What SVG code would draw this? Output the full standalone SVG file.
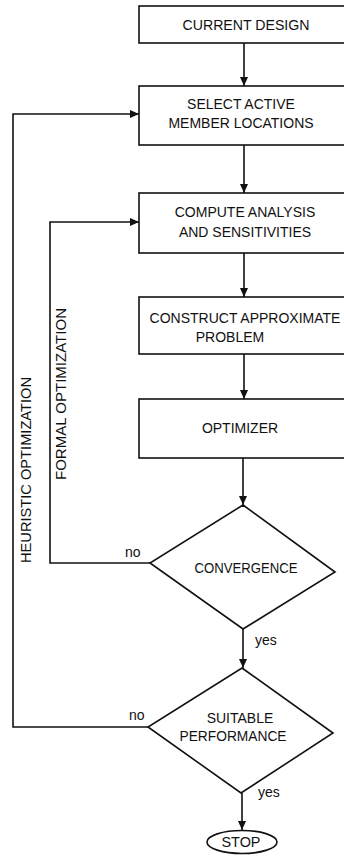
<svg xmlns="http://www.w3.org/2000/svg" width="344" height="861" viewBox="0 0 344 861">
<defs>
<marker id="ah" markerWidth="10" markerHeight="8" refX="9" refY="4" orient="auto" markerUnits="userSpaceOnUse">
<path d="M0,0 L9,4 L0,8 Z" fill="#111"/>
</marker>
<style>
.box{fill:#fff;stroke:#111;stroke-width:1.6}
.ln{fill:none;stroke:#111;stroke-width:1.6}
.t{font-family:"Liberation Sans",Arial,sans-serif;font-size:14px;fill:#111;text-anchor:middle}
.s{font-family:"Liberation Sans",Arial,sans-serif;font-size:14px;fill:#111}
</style>
</defs>
<rect width="344" height="861" fill="#fff"/>
<g id="connectors">
<line class="ln" x1="244" y1="43" x2="244" y2="86" marker-end="url(#ah)"/>
<line class="ln" x1="244" y1="145" x2="244" y2="193" marker-end="url(#ah)"/>
<line class="ln" x1="244" y1="253" x2="244" y2="297" marker-end="url(#ah)"/>
<line class="ln" x1="244" y1="354" x2="244" y2="399" marker-end="url(#ah)"/>
<line class="ln" x1="243" y1="458" x2="243" y2="505" marker-end="url(#ah)"/>
<line class="ln" x1="243" y1="629" x2="243" y2="668" marker-end="url(#ah)"/>
<line class="ln" x1="242" y1="793" x2="242" y2="830" marker-end="url(#ah)"/>
<polyline class="ln" points="150,563 50,563 50,222 139,222" marker-end="url(#ah)"/>
<polyline class="ln" points="148,727 13,727 13,114 139,114" marker-end="url(#ah)"/>
<text class="s" x="125" y="557">no</text>
<text class="s" x="255" y="645">yes</text>
<text class="s" x="129" y="720">no</text>
<text class="s" x="258" y="797">yes</text>
<text class="t" transform="translate(31,470) rotate(-90)" textLength="186" lengthAdjust="spacingAndGlyphs">HEURISTIC OPTIMIZATION</text>
<text class="t" transform="translate(66,394) rotate(-90)" textLength="172" lengthAdjust="spacingAndGlyphs">FORMAL OPTIMIZATION</text>
</g>
<g id="current">
<rect class="box" x="139" y="6" width="215" height="37"/>
<text class="t" x="246" y="30" textLength="127" lengthAdjust="spacingAndGlyphs">CURRENT DESIGN</text>
</g>
<g id="select">
<rect class="box" x="139" y="86" width="215" height="59"/>
<text class="t" x="241" y="109">SELECT ACTIVE</text>
<text class="t" x="241" y="128">MEMBER LOCATIONS</text>
</g>
<g id="compute">
<rect class="box" x="139" y="193" width="215" height="60"/>
<text class="t" x="245" y="217">COMPUTE ANALYSIS</text>
<text class="t" x="245" y="237">AND SENSITIVITIES</text>
</g>
<g id="construct">
<rect class="box" x="139" y="297" width="215" height="57"/>
<text class="t" x="245" y="323">CONSTRUCT APPROXIMATE</text>
<text class="t" x="230" y="342">PROBLEM</text>
</g>
<g id="optimizer">
<rect class="box" x="139" y="399" width="215" height="59"/>
<text class="t" x="240" y="433">OPTIMIZER</text>
</g>
<g id="convergence">
<polygon class="box" points="243,505 335,572 243,629 150,563"/>
<text class="t" x="246" y="573" textLength="103" lengthAdjust="spacingAndGlyphs">CONVERGENCE</text>
</g>
<g id="suitable">
<polygon class="box" points="242,668 333,733 241,793 148,727"/>
<text class="t" x="240" y="723">SUITABLE</text>
<text class="t" x="233" y="741" textLength="107" lengthAdjust="spacingAndGlyphs">PERFORMANCE</text>
</g>
<g id="stop">
<ellipse class="box" cx="242" cy="842" rx="35" ry="11.5"/>
<text class="t" x="241" y="847" textLength="39" lengthAdjust="spacingAndGlyphs">STOP</text>
</g>
</svg>
